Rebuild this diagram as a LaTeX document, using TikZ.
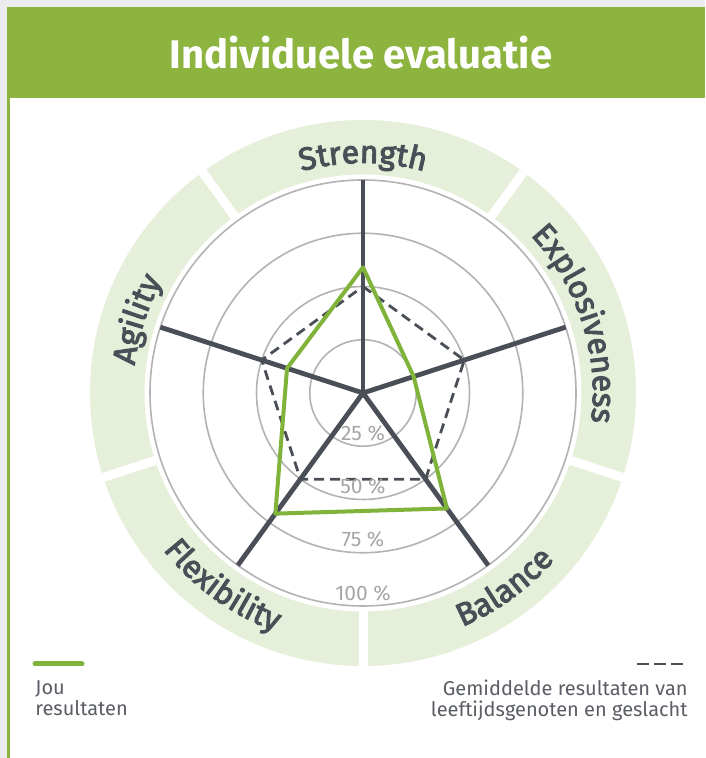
\documentclass[tikz,border=0pt]{standalone}
\usepackage{fontspec}
\setmainfont{Fira Sans}
\newfontfamily\bandfont{Fira Sans}[FakeBold=3]
\usetikzlibrary{decorations.text}

\definecolor{headgreen}{HTML}{8CB43F}
\definecolor{bandgreen}{HTML}{E6EFD9}
\definecolor{axisgrey}{HTML}{4A4F57}
\definecolor{ringgrey}{HTML}{B3B3B3}
\definecolor{pctgrey}{HTML}{A6A6A6}
\definecolor{scoregreen}{HTML}{80B339}
\definecolor{pagegrey}{HTML}{ECECEC}
\definecolor{legendgrey}{HTML}{5A5E64}

\begin{document}
\begin{tikzpicture}[x=0.5pt, y=0.5pt,
		axis/.style={axisgrey, line width=2.4pt},
		ring/.style={ringgrey, line width=0.8pt},
		pct/.style={pctgrey, font=\fontsize{10.5}{10.5}\selectfont, inner sep=0pt},
		score/.style={scoregreen, line width=2pt, line join=round},
		average/.style={axisgrey, line width=1.4pt, dash pattern=on 5pt off 3pt},
		bandlabel/.style={decorate, decoration={text along path, text align=center, text color=axisgrey, text={|\bandfont\fontsize{16}{16}\selectfont|#1}}},
		legend/.style={legendgrey, font=\fontsize{10}{10.5}\selectfont, inner sep=0pt}]
		\def\R{213};
		\def\rin{218.5};
		\def\rout{273};
		\def\rup{230};
		\def\rdown{254};

		\useasboundingbox (0,0) rectangle (705,758);
		\fill[pagegrey] (0,0) rectangle (705,758);
		\fill[white] (10,0) rectangle (705,660);
		\fill[headgreen] (7,660) rectangle (705,751);
		\fill[headgreen] (7,0) rectangle (10,660);
		\node[white, font=\fontsize{20}{20}\selectfont\bfseries] (title) at (361,705) {Individuele evaluatie};

		\begin{scope}[shift={(363,365)}]
			% band round the chart
			\fill[bandgreen, even odd rule] (0,0) circle (\rout) circle (\rin);
			\foreach \a in {54,126,198,270,342}
				\draw[white, line width=4.5pt] (\a:{\rin-3}) -- (\a:{\rout+3});

			\path[bandlabel=Strength] (125:\rup) arc[start angle=125, end angle=55, radius=\rup];
			\path[bandlabel=Explosiveness] (53:\rup) arc[start angle=53, end angle=-17, radius=\rup];
			\path[bandlabel=Agility] (197:\rup) arc[start angle=197, end angle=127, radius=\rup];
			\path[bandlabel=Balance] (-89:\rdown) arc[start angle=-89, end angle=-19, radius=\rdown];
			\path[bandlabel=Flexibility] (-161:\rdown) arc[start angle=-161, end angle=-91, radius=\rdown];

			\foreach \p in {1,2,3,4}
				\draw[ring] (0,0) circle ({\p*\R/4});

			\coordinate (O) at (0,0);
			\coordinate (strength) at (90:\R);
			\coordinate (explosive) at (18:\R);
			\coordinate (balance) at (-54:\R);
			\coordinate (flexible) at (-126:\R);
			\coordinate (agility) at (162:\R);

			% peers: 50 % on every axis
			\coordinate (a1) at (90:{\R/2});
			\coordinate (a2) at (18:{\R/2});
			\coordinate (a3) at (-54:{\R/2});
			\coordinate (a4) at (-126:{\R/2});
			\coordinate (a5) at (162:{\R/2});
			\draw[average] (a1) -- (a2) -- (a3) -- (a4) -- (a5) -- cycle;

			\draw[axis] (O) -- (strength);
			\draw[axis] (O) -- (explosive);
			\draw[axis] (O) -- (balance);
			\draw[axis] (O) -- (flexible);
			\draw[axis] (O) -- (agility);

			\coordinate (s1) at (90:{0.59*\R});
			\coordinate (s2) at (18:{0.25*\R});
			\coordinate (s3) at (-54:{0.67*\R});
			\coordinate (s4) at (-126:{0.70*\R});
			\coordinate (s5) at (162:{0.375*\R});
			\draw[score] (s1) -- (s2) -- (s3) -- (s4) -- (s5) -- cycle;

			\node[pct] (p25) at (0,{-\R/4+13}) {25 \%};
			\node[pct] (p50) at (0,{-\R/2+13}) {50 \%};
			\node[pct] (p75) at (0,{-3*\R/4+13}) {75 \%};
			\node[pct] (p100) at (0,{-\R+13}) {100 \%};
		\end{scope}

		\draw[scoregreen, line width=2.5pt, line cap=round] (35,94) -- (82,94);
		\draw[axisgrey, line width=1pt, dash pattern=on 6pt off 2.5pt] (637,94) -- (683,94);
		\node[legend, anchor=north west, align=left] (ours) at (35,78) {Jou\\resultaten};
		\node[legend, anchor=north east, align=right] (peers) at (688,78) {Gemiddelde resultaten van\\leeftijdsgenoten en geslacht};
	\end{tikzpicture}
\end{document}
